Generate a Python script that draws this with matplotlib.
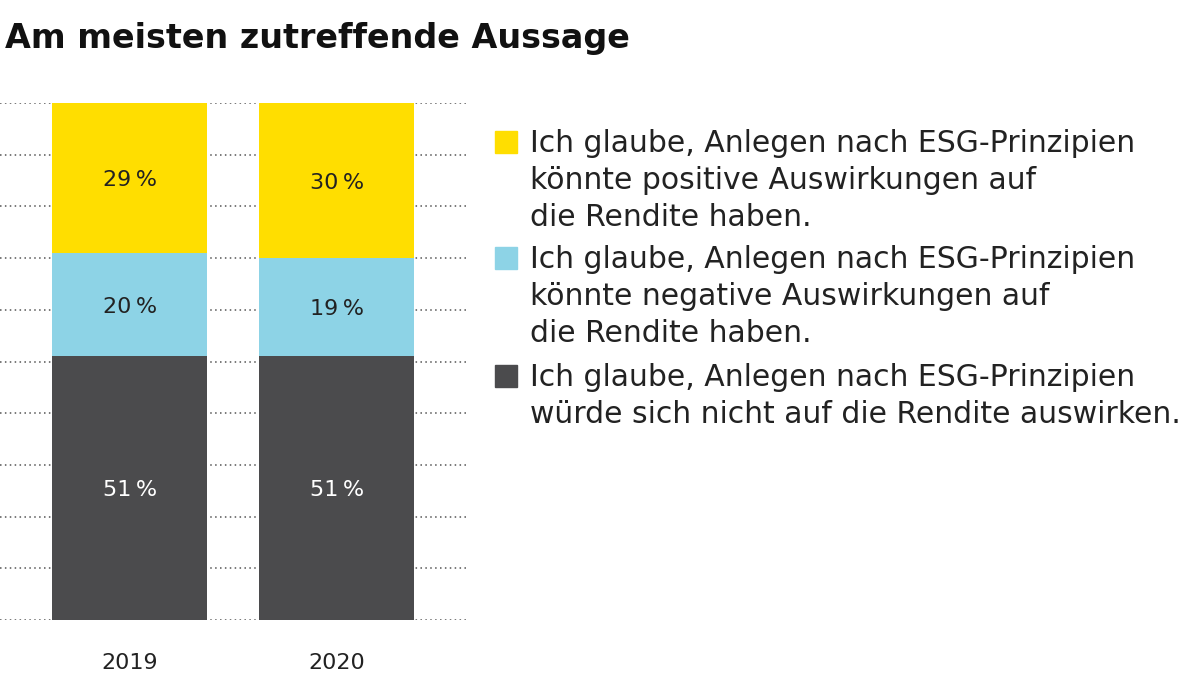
import matplotlib
matplotlib.use("Agg")
import matplotlib.pyplot as plt
from matplotlib.patches import Rectangle

plt.rcParams['font.family'] = ['DejaVu Sans']

years = ["2019", "2020"]
neutral = [51, 51]
negative = [20, 19]
positive = [29, 30]

series_labels = [
    "Ich glaube, Anlegen nach ESG-Prinzipien\nkönnte positive Auswirkungen auf\ndie Rendite haben.",
    "Ich glaube, Anlegen nach ESG-Prinzipien\nkönnte negative Auswirkungen auf\ndie Rendite haben.",
    "Ich glaube, Anlegen nach ESG-Prinzipien\nwürde sich nicht auf die Rendite auswirken.",
]
colors = ["#FFDE00", "#8DD3E6", "#4B4B4D"]

fig = plt.figure(figsize=(12, 6.75), dpi=100)
ax = fig.add_axes([0, 1 - 620 / 675, 468 / 1200, 517 / 675])

x = [0, 1]
w = 0.75
ax.bar(x, neutral, width=w, color=colors[2], zorder=3)
ax.bar(x, negative, width=w, bottom=neutral, color=colors[1], zorder=3)
bottoms = [a + b for a, b in zip(neutral, negative)]
ax.bar(x, positive, width=w, bottom=bottoms, color=colors[0], zorder=3)

for i in x:
    ax.text(i, neutral[i] / 2, f"{neutral[i]}\u2009%", ha="center", va="center_baseline",
            fontsize=16, color="white", zorder=4)
    ax.text(i, neutral[i] + negative[i] / 2, f"{negative[i]}\u2009%", ha="center",
            va="center_baseline", fontsize=16, color="#222222", zorder=4)
    ax.text(i, bottoms[i] + positive[i] / 2, f"{positive[i]}\u2009%", ha="center",
            va="center_baseline", fontsize=16, color="#222222", zorder=4)

ax.set_xticks(x)
ax.set_xticklabels(years, fontsize=16, color="#222222")
ax.set_xlim(-0.626, 1.635)
ax.set_ylim(0, 100)
ax.set_yticks(range(0, 101, 10))
ax.yaxis.grid(True, linestyle=(0, (1, 2.2)), color="#555555", linewidth=1.1, zorder=0)
ax.tick_params(left=False, bottom=False, labelleft=False, pad=20)
for s in ax.spines.values():
    s.set_visible(False)

fig.text(5 / 1200, 1 - 48 / 675, "Am meisten zutreffende Aussage", fontsize=24,
         fontweight="bold", ha="left", va="baseline", color="#111111")

# legend: baseline of first line of each entry, in pixels from top
legend_base = [152, 268, 386]
line_step = 37
for lab, c, lb in zip(series_labels, colors, legend_base):
    fig.patches.append(Rectangle((495 / 1200, 1 - (lb + 1) / 675), 22 / 1200, 22 / 675,
                                 transform=fig.transFigure, color=c))
    for k, line in enumerate(lab.split("\n")):
        fig.text(530 / 1200, 1 - (lb + k * line_step) / 675, line, fontsize=21.5,
                 ha="left", va="baseline", color="#222222")

fig.savefig("out.png", dpi=100)
